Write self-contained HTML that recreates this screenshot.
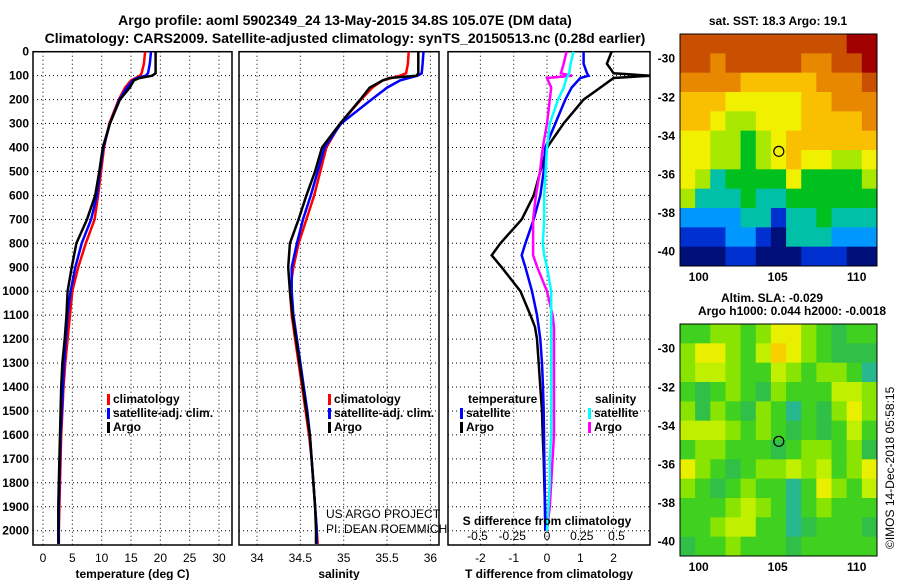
<!DOCTYPE html>
<html><head><meta charset="utf-8"><style>
body{margin:0;background:#fff;}
svg{display:block;font-family:"Liberation Sans",sans-serif;font-weight:bold;}
</style></head><body>
<svg id="fig" width="900" height="580" xmlns="http://www.w3.org/2000/svg">
<text x="345" y="25" text-anchor="middle" font-size="14">Argo profile: aoml 5902349_24 13-May-2015 34.8S 105.07E (DM data)</text>
<text x="345" y="43" text-anchor="middle" font-size="14">Climatology: CARS2009. Satellite-adjusted climatology: synTS_20150513.nc (0.28d earlier)</text>
<text x="778" y="25" text-anchor="middle" font-size="12">sat. SST: 18.3 Argo: 19.1</text>
<text x="772" y="302" text-anchor="middle" font-size="12">Altim. SLA: -0.029</text>
<text x="792" y="315" text-anchor="middle" font-size="12">Argo h1000: 0.044 h2000: -0.0018</text>
<text transform="translate(894,549) rotate(-90)" font-size="12" font-weight="normal">©IMOS 14-Dec-2018 05:58:15</text>
</svg>
<script>
// ---------- data ----------
const depthTicks=[0,100,200,300,400,500,600,700,800,900,1000,1100,1200,1300,1400,1500,1600,1700,1800,1900,2000];
const tTicks=[0,5,10,15,20,25,30];
const sTicks=[34,34.5,35,35.5,36];
const dTTicks=[-2,-1,0,1,2];
const dSTicks=[-0.5,-0.25,0,0.25,0.5];
const dSTickLabels=["-0.5","-0.25","0","0.25","0.5"];

const profDepth=[0,50,90,100,110,120,150,200,300,400,500,600,700,800,900,1000,1100,1200,1300,1400,1500,1600,1700,1800,1900,2000,2055];
const tempClim=[17.4,17.2,16.8,16.5,15.8,15,14.0,12.9,11.3,10.4,9.9,9.4,8.8,7.3,6.0,5.0,4.6,4.2,3.8,3.5,3.3,3.1,3.0,2.9,2.8,2.7,2.7];
const tempSat=[18.4,18.2,17.9,17.5,16,15.3,14.3,13.0,11.4,10.3,9.7,9.2,8.2,6.6,5.5,4.7,4.2,3.9,3.6,3.4,3.2,3.0,2.9,2.8,2.7,2.7,2.7];
const tempArgo=[19.2,19.2,19.2,18.6,16.5,15.5,14.8,13.1,11.4,10.2,9.6,8.9,7.5,5.7,4.9,4.2,4.0,3.7,3.3,3.1,3.0,2.9,2.8,2.7,2.6,2.6,2.6];
const salClim=[35.75,35.74,35.72,35.65,35.55,35.45,35.33,35.2,34.96,34.8,34.73,34.66,34.57,34.48,34.42,34.38,34.4,34.44,34.48,34.52,34.56,34.6,34.63,34.65,34.67,34.69,34.7];
const salSat=[35.92,35.91,35.9,35.85,35.75,35.65,35.5,35.32,34.97,34.78,34.7,34.62,34.53,34.46,34.4,34.4,34.42,34.46,34.5,34.54,34.58,34.61,34.63,34.65,34.67,34.69,34.69];
const salArgo=[35.86,35.86,35.86,35.84,35.53,35.45,35.3,35.19,34.96,34.75,34.67,34.57,34.48,34.38,34.36,34.38,34.41,34.45,34.49,34.53,34.57,34.61,34.63,34.65,34.67,34.68,34.68];

const diffDepth=[0,50,90,100,110,150,200,300,400,500,600,700,800,850,900,1000,1100,1150,1200,1300,1400,1500,1600,1700,1800,1900,2000];
const dTArgo=[1.94,1.8,2.0,3.1,2.0,1.6,1.1,0.5,0.0,-0.2,-0.4,-0.76,-1.4,-1.66,-1.36,-0.8,-0.5,-0.36,-0.3,-0.25,-0.2,-0.15,-0.13,-0.1,-0.08,-0.06,-0.05];
const dTSat=[1.1,1.1,1.2,1.25,1.0,0.74,0.55,0.25,-0.05,-0.1,-0.2,-0.4,-0.65,-0.76,-0.65,-0.45,-0.3,-0.25,-0.2,-0.15,-0.12,-0.1,-0.09,-0.08,-0.07,-0.06,-0.05];
const dSArgo=[0.14,0.12,0.1,0.18,0.0,0.03,0.02,0.0,-0.03,-0.05,-0.08,-0.1,-0.1,-0.1,-0.07,0.0,0.04,0.05,0.05,0.05,0.05,0.05,0.05,0.04,0.03,0.02,0.0];
const dSSat=[0.19,0.17,0.16,0.15,0.14,0.12,0.08,0.02,0.0,-0.01,-0.02,-0.02,-0.03,-0.02,0.0,0.03,0.03,0.03,0.03,0.03,0.03,0.03,0.03,0.02,0.02,0.01,0.0];

const mapLonTicks=[100,105,110];
const mapLatTicks=[-30,-32,-34,-36,-38,-40];
const sstGrid=[
[9,9,9,9,9,9,9,9,9,9,9,10,10],
[9,9,8,9,9,9,9,9,8,8,9,9,10],
[8,8,8,8,7,7,7,7,7,8,8,8,9],
[7,7,7,6,6,6,6,6,7,7,8,8,8],
[7,7,6,5,5,6,6,6,7,7,7,7,8],
[6,6,5,5,4,5,6,7,7,7,7,7,7],
[6,6,5,5,4,5,6,7,6,6,5,5,6],
[6,5,3,4,4,4,4,6,4,4,4,4,5],
[5,3,3,3,4,3,3,4,4,4,4,4,4],
[2,2,2,2,3,3,1,3,3,4,3,3,3],
[1,1,1,2,2,1,0,3,3,3,2,2,2],
[0,0,0,1,1,0,0,0,1,1,1,0,0]];
const slaGrid=[
[2,2,3,3,2,3,5,5,3,2,1,2,2],
[3,5,5,3,2,4,6,5,3,2,1,1,1],
[3,4,4,3,2,2,4,3,2,3,3,2,0],
[2,1,2,3,2,1,3,2,2,2,4,4,3],
[3,1,3,2,1,3,2,0,2,1,3,5,3],
[4,4,4,3,2,3,2,1,2,1,2,4,2],
[2,3,3,2,2,2,1,2,3,3,2,3,1],
[5,3,2,1,2,3,3,4,3,4,2,3,5],
[3,2,1,2,3,2,2,0,2,5,3,2,4],
[2,2,2,3,4,3,2,0,2,3,2,2,2],
[2,2,3,4,4,2,2,0,1,2,2,2,1],
[1,2,2,3,2,2,2,1,2,2,2,2,2]];
const sstColors=["#00107a","#0030d0","#0098ff","#00c0a8","#00c020","#a8e800","#f0f000","#f8c000","#e88800","#c85000","#a00000"];
const slaColors=["#28b890","#30c048","#40d020","#88e400","#c0f000","#e8f000","#f8d000"];

// ---------- helpers ----------
const svg=document.getElementById('fig');
const NS='http://www.w3.org/2000/svg';
function mk(tag,attrs,parent){const e=document.createElementNS(NS,tag);for(const k in attrs)e.setAttribute(k,attrs[k]);(parent||svg).appendChild(e);return e;}
const yTop=51.7, yPer=0.2395;
const yD=d=>yTop+d*yPer;
const boxB=545;
const xT=t=>43+t*5.867;
const xS=s=>257+(s-34)*86.7;
const xDT=v=>547+v*33.3;
const xDS=v=>547+v*139;

function panel(name,x0,x1,vx,vTicks,labels,xlabel){
  const g=mk('g',{});
  
  
  depthTicks.forEach(d=>{const l=mk('line',{x1:x0,x2:x1,y1:yD(d),y2:yD(d),stroke:'#000','stroke-width':1,'stroke-dasharray':'1,3'},g);
    });
  vTicks.forEach((v,i)=>{const l=mk('line',{x1:vx(v),x2:vx(v),y1:yTop,y2:boxB,stroke:'#000','stroke-width':1,'stroke-dasharray':'1,3'},g);
    
    if(labels){const t=mk('text',{x:vx(v),y:562,'text-anchor':'middle','font-size':12,'font-weight':'normal'},g);t.textContent=labels[i];
      }});
  const r=mk('rect',{x:x0,y:yTop,width:x1-x0,height:boxB-yTop,fill:'none',stroke:'#000','stroke-width':1.5},g);
  
  const xl=mk('text',{x:(x0+x1)/2,y:578,'text-anchor':'middle','font-size':12},g);xl.textContent=xlabel;
  
  return g;
}
function line(g,name,xs,ds,xf,color){
  const pts=xs.map((v,i)=>xf(v).toFixed(1)+','+yD(ds[i]).toFixed(1)).join(' ');
  const p=mk('polyline',{points:pts,fill:'none',stroke:color,'stroke-width':2.5,'stroke-linejoin':'miter'},g);
  
}
function legend(g,x,y,color,label,name){
  const m=mk('rect',{x:x,y:y-9,width:3,height:11,fill:color},g);
  
  if(label!==null){const t=mk('text',{x:x+6,y:y,'font-size':12},g);t.textContent=label;
  }
}

// depth labels
depthTicks.forEach(d=>{const t=mk('text',{x:29,y:yD(d)+4,'text-anchor':'end','font-size':12});t.textContent=d;
  });

// Panel 1
const p1=panel('temperature-panel',33,232,xT,tTicks,tTicks.map(String),'temperature (deg C)');
line(p1,'temperature-climatology-line',tempClim,profDepth,xT,'#ff0000');
line(p1,'temperature-satellite-line',tempSat,profDepth,xT,'#0000ff');
line(p1,'temperature-argo-line',tempArgo,profDepth,xT,'#000');
legend(p1,107,403,'#ff0000','climatology','legend-climatology');
legend(p1,107,417,'#0000ff','satellite-adj. clim.','legend-satellite');
legend(p1,107,431,'#000','Argo','legend-argo');

// Panel 2
const p2=panel('salinity-panel',239,439,xS,sTicks,sTicks.map(String),'salinity');
line(p2,'salinity-climatology-line',salClim,profDepth,xS,'#ff0000');
line(p2,'salinity-satellite-line',salSat,profDepth,xS,'#0000ff');
line(p2,'salinity-argo-line',salArgo,profDepth,xS,'#000');
legend(p2,328,403,'#ff0000','climatology','legend-climatology');
legend(p2,328,417,'#0000ff','satellite-adj. clim.','legend-satellite');
legend(p2,328,431,'#000','Argo','legend-argo');
[['US ARGO PROJECT',518],['PI: DEAN ROEMMICH',533]].forEach(a=>{const t=mk('text',{x:326,y:a[1],'font-size':12,'font-weight':'normal'},p2);t.textContent=a[0];
  });

// Panel 3
const p3=panel('difference-panel',448,650,xDT,dTTicks,null,'T difference from climatology');
dTTicks.forEach(v=>{const t=mk('text',{x:xDT(v),y:562,'text-anchor':'middle','font-size':12,'font-weight':'normal'},p3);t.textContent=v;
  });
line(p3,'t-diff-argo-line',dTArgo,diffDepth,xDT,'#000');
line(p3,'t-diff-satellite-line',dTSat,diffDepth,xDT,'#0000ff');
line(p3,'s-diff-argo-line',dSArgo,diffDepth,xDS,'#ff00ff');
line(p3,'s-diff-satellite-line',dSSat,diffDepth,xDS,'#00ffff');
const st=mk('text',{x:547,y:525,'text-anchor':'middle','font-size':12},p3);st.textContent='S difference from climatology';

dSTicks.forEach((v,i)=>{const t=mk('text',{x:xDS(v),y:540,'text-anchor':'middle','font-size':12,'font-weight':'normal'},p3);t.textContent=dSTickLabels[i];
  });
[['temperature',468,403],['salinity',595,403]].forEach(a=>{const t=mk('text',{x:a[1],y:a[2],'font-size':12},p3);t.textContent=a[0];
  });
legend(p3,460,417,'#0000ff','satellite','legend-t-satellite');
legend(p3,460,431,'#000','Argo','legend-t-argo');
legend(p3,588,417,'#00ffff','satellite','legend-s-satellite');
legend(p3,588,431,'#ff00ff','Argo','legend-s-argo');

// Maps
function map(name,y0,grid,colors){
  const x0=680,x1=877,h=232,y1=y0+h;
  const lonX=l=>698.7+(l-100)*15.8;
  const latY=l=>y0+24.7+(-30-l)*19.3;
  const g=mk('g',{});
  
  const rows=grid.length,cols=grid[0].length,cw=(x1-x0)/cols,ch=h/rows;
  grid.forEach((row,r)=>row.forEach((v,c)=>{const cell=mk('rect',{x:x0+c*cw,y:y0+r*ch,width:cw+0.5,height:ch+0.5,fill:colors[v]},g);
    }));
  const b=mk('rect',{x:x0,y:y0,width:x1-x0,height:h,fill:'none',stroke:'#000','stroke-width':1},g);
  
  mapLonTicks.forEach(l=>{const t=mk('text',{x:lonX(l),y:y1+15,'text-anchor':'middle','font-size':12},g);t.textContent=l;
    });
  mapLatTicks.forEach(l=>{const t=mk('text',{x:675,y:latY(l)+4,'text-anchor':'end','font-size':12},g);t.textContent=l;
    });
  const c=mk('circle',{cx:lonX(105.07),cy:latY(-34.8),r:5,fill:'none',stroke:'#000','stroke-width':1.2},g);
  
}
map('sst-map',34,sstGrid,sstColors);
map('sla-map',324,slaGrid,slaColors);
</script>
</body></html>
